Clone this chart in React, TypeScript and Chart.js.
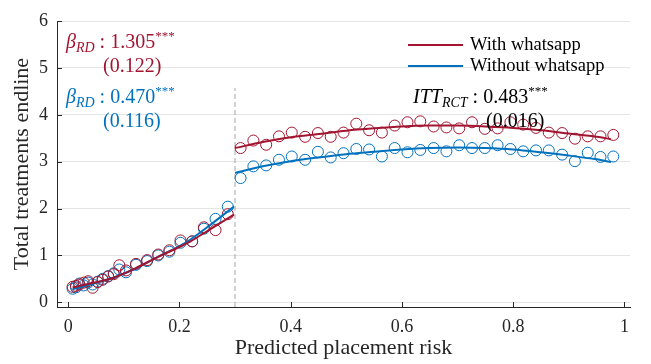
import React, { useEffect, useRef } from "react";
import { Chart, registerables } from "chart.js";

Chart.register(...registerables);

const RED = "#A2142F";
const BLUE = "#0072BD";
const FONT = '"Liberation Serif", "Times New Roman", serif';

// Binned scatter, left of cutoff
const leftX = [0.008, 0.014, 0.02, 0.028, 0.036, 0.044, 0.053, 0.062, 0.072, 0.082, 0.092, 0.104, 0.122, 0.142, 0.162, 0.182, 0.202, 0.223, 0.244, 0.265, 0.287];
const leftWith = [0.33, 0.35, 0.38, 0.42, 0.45, 0.31, 0.43, 0.48, 0.55, 0.6, 0.79, 0.68, 0.82, 0.9, 1.02, 1.11, 1.32, 1.3, 1.6, 1.54, 1.88];
const leftWithout = [0.29, 0.32, 0.4, 0.36, 0.42, 0.38, 0.44, 0.5, 0.56, 0.62, 0.7, 0.64, 0.8, 0.88, 1.0, 1.08, 1.27, 1.3, 1.57, 1.78, 2.04];

// Binned scatter, right of cutoff
const rightX = [0.31, 0.333, 0.356, 0.379, 0.402, 0.426, 0.449, 0.472, 0.495, 0.518, 0.541, 0.564, 0.587, 0.61, 0.633, 0.657, 0.68, 0.703, 0.726, 0.749, 0.772, 0.795, 0.818, 0.841, 0.864, 0.888, 0.911, 0.934, 0.957, 0.98];
const rightWith = [3.29, 3.45, 3.36, 3.54, 3.62, 3.53, 3.61, 3.53, 3.62, 3.81, 3.67, 3.62, 3.77, 3.84, 3.86, 3.75, 3.73, 3.71, 3.84, 3.7, 3.71, 3.84, 3.79, 3.72, 3.62, 3.61, 3.49, 3.54, 3.54, 3.57];
const rightWithout = [2.65, 2.9, 2.92, 3.04, 3.11, 3.04, 3.21, 3.09, 3.18, 3.27, 3.26, 3.11, 3.29, 3.2, 3.25, 3.29, 3.22, 3.35, 3.29, 3.29, 3.35, 3.27, 3.22, 3.24, 3.24, 3.15, 3.01, 3.19, 3.1, 3.11];

// Fitted curves
const fitLeftX = [0.008, 0.04, 0.08, 0.12, 0.16, 0.2, 0.22, 0.25, 0.298];
const fitLeftWith = [0.32, 0.4, 0.52, 0.72, 0.96, 1.18, 1.3, 1.52, 1.87];
const fitLeftWithout = [0.28, 0.38, 0.52, 0.71, 0.96, 1.2, 1.34, 1.6, 2.04];
const fitRightX = [0.3, 0.35, 0.4, 0.45, 0.5, 0.55, 0.6, 0.65, 0.7, 0.75, 0.8, 0.85, 0.9, 0.95, 0.976];
const fitRightWith = [3.29, 3.42, 3.52, 3.59, 3.66, 3.71, 3.75, 3.77, 3.77, 3.75, 3.72, 3.67, 3.6, 3.53, 3.48];
const fitRightWithout = [2.76, 2.9, 3.01, 3.09, 3.16, 3.21, 3.26, 3.29, 3.3, 3.29, 3.26, 3.2, 3.13, 3.05, 2.99];

const cutoff = 0.3;
const cutoffSpan = [-0.1, 4.57];
const xTicks = [0, 0.2, 0.4, 0.6, 0.8, 1];
const yTicks = [0, 1, 2, 3, 4, 5, 6];
const seriesNames = ["With whatsapp", "Without whatsapp"];

const pts = (xs: number[], ys: number[]) => xs.map((x, i) => ({ x, y: ys[i] }));

type Seg = { t: string; size: number; italic?: boolean; dy?: number };
function drawRich(ctx: CanvasRenderingContext2D, x: number, y: number, segs: Seg[], color: string) {
  let cx = x;
  ctx.fillStyle = color;
  ctx.textBaseline = "alphabetic";
  ctx.textAlign = "left";
  for (const s of segs) {
    ctx.font = `${s.italic ? "italic " : ""}${s.size}px ${FONT}`;
    ctx.fillText(s.t, cx, y + (s.dy || 0));
    cx += ctx.measureText(s.t).width;
  }
}

const overlayPlugin = {
  id: "overlay",
  afterDatasetsDraw(chart: any) {
    const ctx: CanvasRenderingContext2D = chart.ctx;
    const area = chart.chartArea;
    const xs = chart.scales.x;
    const ys = chart.scales.y;
    ctx.save();
    // inward ticks
    ctx.strokeStyle = "#262626";
    ctx.lineWidth = 1;
    ctx.beginPath();
    for (const v of xTicks) {
      const px = Math.round(xs.getPixelForValue(v)) + 0.5;
      ctx.moveTo(px, area.bottom);
      ctx.lineTo(px, area.bottom - 5);
    }
    for (const v of yTicks) {
      const py = Math.round(ys.getPixelForValue(v)) + 0.5;
      ctx.moveTo(area.left, py);
      ctx.lineTo(area.left + 5, py);
    }
    ctx.stroke();

    // annotations
    drawRich(ctx, 66, 48, [
      { t: "β", size: 20, italic: true },
      { t: "RD", size: 14, italic: true, dy: 4 },
      { t: " : 1.305", size: 20 },
      { t: "***", size: 13, dy: -8 },
    ], RED);
    drawRich(ctx, 103, 72, [{ t: "(0.122)", size: 20 }], RED);
    drawRich(ctx, 66, 103, [
      { t: "β", size: 20, italic: true },
      { t: "RD", size: 14, italic: true, dy: 4 },
      { t: " : 0.470", size: 20 },
      { t: "***", size: 13, dy: -8 },
    ], BLUE);
    drawRich(ctx, 103, 127, [{ t: "(0.116)", size: 20 }], BLUE);
    drawRich(ctx, 413, 103, [
      { t: "ITT", size: 20, italic: true },
      { t: "RCT", size: 14, italic: true, dy: 4 },
      { t: " : 0.483", size: 20 },
      { t: "***", size: 13, dy: -8 },
    ], "#000");
    drawRich(ctx, 486, 127, [{ t: "(0.016)", size: 20 }], "#000");

    // legend
    const colors = [RED, BLUE];
    const ly = [45, 66];
    seriesNames.forEach((name, i) => {
      ctx.strokeStyle = colors[i];
      ctx.lineWidth = 2;
      ctx.beginPath();
      ctx.moveTo(408, ly[i]);
      ctx.lineTo(463, ly[i]);
      ctx.stroke();
      ctx.fillStyle = "#000";
      ctx.font = `18.5px ${FONT}`;
      ctx.textBaseline = "middle";
      ctx.textAlign = "left";
      ctx.fillText(name, 470, ly[i]);
    });
    ctx.restore();
  },
};

export default function App() {
  const ref = useRef<HTMLCanvasElement | null>(null);
  useEffect(() => {
    document.body.style.margin = "0";
    if (!ref.current) return;
    const scatter = (data: any, color: string) => ({
      type: "scatter" as const,
      data,
      showLine: false,
      pointStyle: "circle",
      pointRadius: 5.5,
      pointBorderWidth: 1,
      pointBackgroundColor: "rgba(0,0,0,0)",
      pointBorderColor: color,
      borderColor: color,
      order: 2,
    });
    const line = (data: any, color: string) => ({
      type: "scatter" as const,
      data,
      showLine: true,
      pointRadius: 0,
      borderColor: color,
      borderWidth: 2,
      tension: 0.3,
      order: 1,
    });
    const chart = new Chart(ref.current, {
      type: "scatter",
      data: {
        datasets: [
          scatter(pts(leftX, leftWith), RED),
          scatter(pts(leftX, leftWithout), BLUE),
          scatter(pts(rightX, rightWith), RED),
          scatter(pts(rightX, rightWithout), BLUE),
          line(pts(fitLeftX, fitLeftWith), RED),
          line(pts(fitLeftX, fitLeftWithout), BLUE),
          line(pts(fitRightX, fitRightWith), RED),
          line(pts(fitRightX, fitRightWithout), BLUE),
          {
            type: "scatter" as const,
            data: cutoffSpan.map((y) => ({ x: cutoff, y })),
            showLine: true,
            pointRadius: 0,
            borderColor: "#a6a6a6",
            borderWidth: 1,
            borderDash: [5, 3],
            order: 3,
          },
        ] as any,
      },
      options: {
        animation: false,
        responsive: false,
        devicePixelRatio: 1,
        layout: { padding: { left: 0, right: 21, top: 21, bottom: 0 } },
        plugins: { legend: { display: false }, tooltip: { enabled: false } },
        scales: {
          x: {
            type: "linear",
            min: -0.02,
            max: 1.01,
            afterBuildTicks: (s: any) => {
              s.ticks = xTicks.map((v) => ({ value: v }));
            },
            afterFit: (s: any) => {
              s.height = 57;
            },
            grid: { display: false, drawTicks: false },
            border: { display: true, color: "#262626", width: 1 },
            ticks: {
              color: "#262626",
              padding: 9,
              font: { family: FONT, size: 18 },
              callback: (v: any) => String(v),
            },
            title: {
              display: true,
              text: "Predicted placement risk",
              color: "#262626",
              font: { family: FONT, size: 22 },
              padding: { top: 0, bottom: 3 },
            },
          },
          y: {
            type: "linear",
            min: -0.1,
            max: 6,
            afterBuildTicks: (s: any) => {
              s.ticks = yTicks.map((v) => ({ value: v }));
            },
            afterFit: (s: any) => {
              s.width = 57;
            },
            grid: { display: true, drawTicks: false, color: "#e5e5e5", lineWidth: 1 },
            border: { display: true, color: "#262626", width: 1 },
            ticks: {
              color: "#262626",
              padding: 9,
              font: { family: FONT, size: 18 },
              callback: (v: any) => String(v),
            },
            title: {
              display: true,
              text: "Total treatments endline",
              color: "#262626",
              font: { family: FONT, size: 22 },
              padding: { top: 9, bottom: 0 },
            },
          },
        },
      },
      plugins: [overlayPlugin],
    });
    return () => chart.destroy();
  }, []);
  return <canvas ref={ref} width={651} height={364} style={{ display: "block" }} />;
}
